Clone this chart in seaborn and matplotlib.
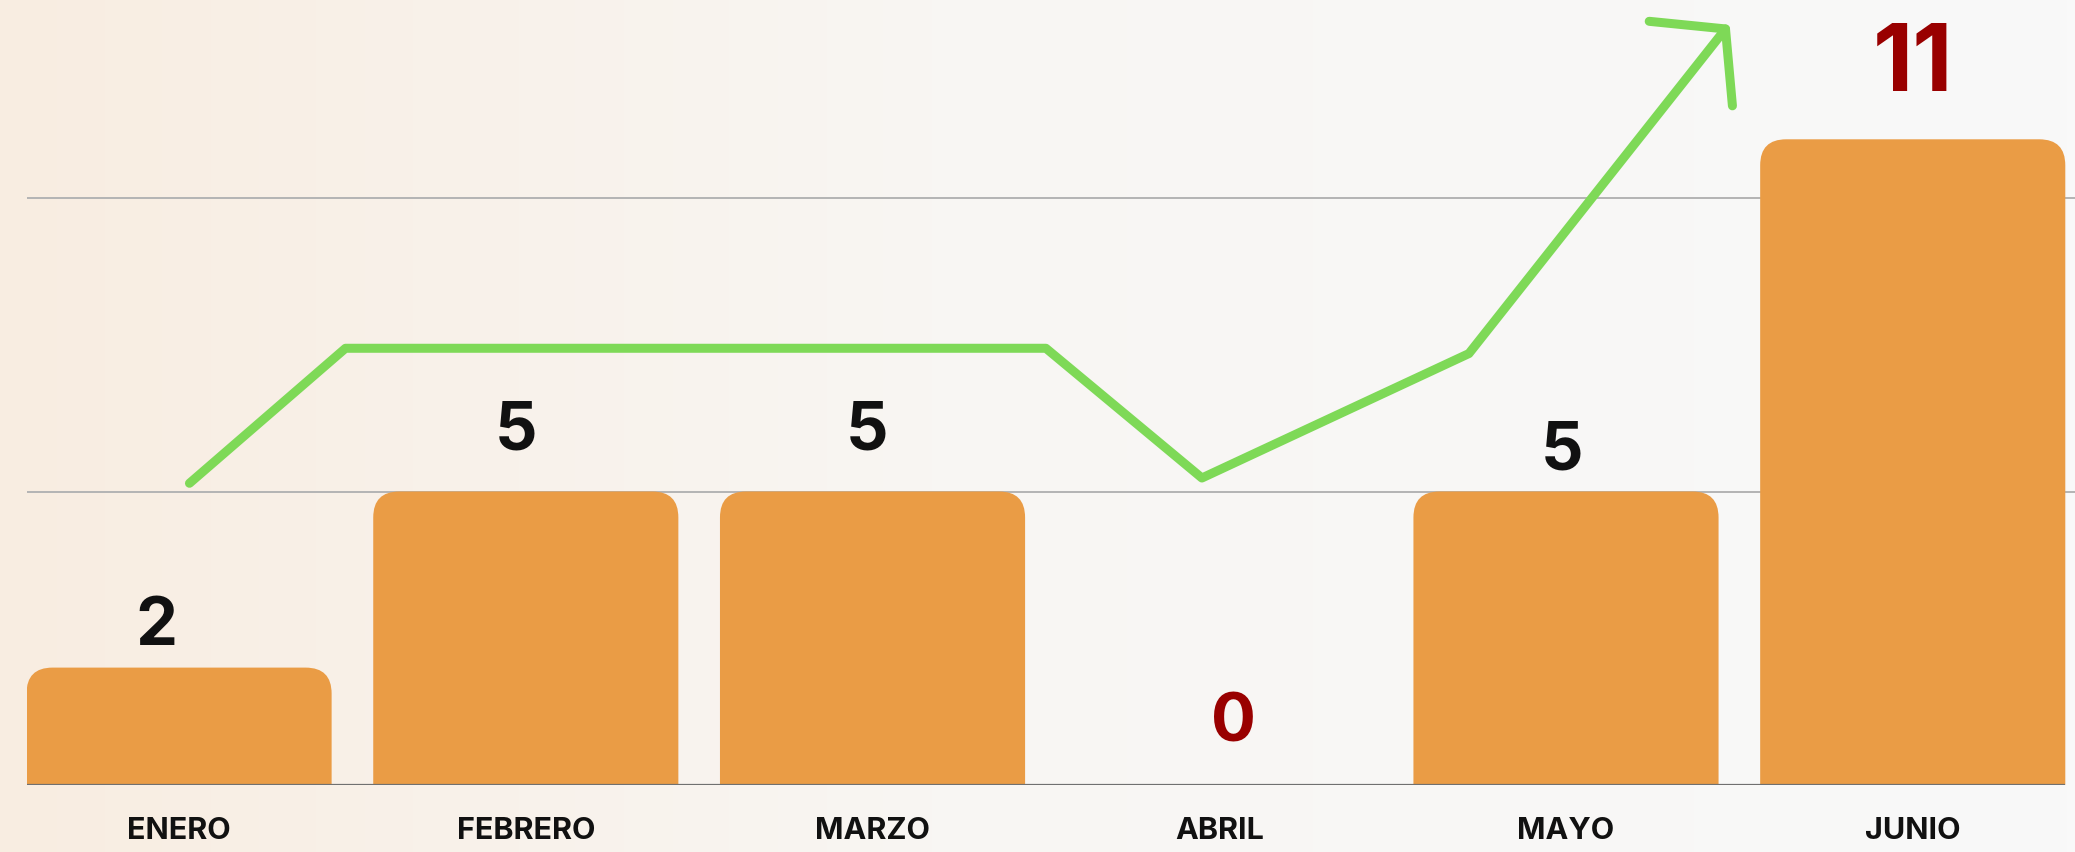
import numpy as np
import matplotlib
matplotlib.use("Agg")
import matplotlib.pyplot as plt
from matplotlib.patches import PathPatch
from matplotlib.path import Path
from matplotlib.colors import LinearSegmentedColormap
import seaborn as sns

# data
months = ["ENERO", "FEBRERO", "MARZO", "ABRIL", "MAYO", "JUNIO"]
values = [2, 5, 5, 0, 5, 11]

# hand-drawn trend arrow (data coordinates)
trend_x = [0.03, 0.48, 2.50, 2.95, 3.72, 4.46]
trend_y = [5.14, 7.44, 7.44, 5.23, 7.35, 12.88]
arrow_x = [4.24, 4.46, 4.48]
arrow_y = [13.01, 12.88, 11.57]

# label nudges (points)
label_dx = [-16, -7, -4, 10, -3, 0]
label_dy = [16.5, 30, 30, 31, 16, 35]

BAR_COLOR = "#EA9C45"
GREEN = "#7ED957"
RED = "#990000"


def rounded_top(x0, w, h, rx, ry):
    """Bar outline with rounded top corners only."""
    x1 = x0 + w
    verts = [(x0, 0), (x0, h - ry), (x0, h), (x0 + rx, h), (x1 - rx, h),
             (x1, h), (x1, h - ry), (x1, 0), (x0, 0)]
    codes = [Path.MOVETO, Path.LINETO, Path.CURVE3, Path.CURVE3, Path.LINETO,
             Path.CURVE3, Path.CURVE3, Path.LINETO, Path.CLOSEPOLY]
    return Path(verts, codes)


sns.set_style("white")
plt.rcParams['font.family'] = ['Inter', 'DejaVu Sans']

fig = plt.figure(figsize=(20.75, 8.52), dpi=100)

# background gradient
bg = fig.add_axes([0, 0, 1, 1], zorder=0)
cmap = LinearSegmentedColormap.from_list("bg", [(0, "#F8EDE1"), (0.45, "#F8F6F3"), (1, "#F9F9F9")])
bg.imshow(np.linspace(0, 1, 512)[None, :], aspect="auto", cmap=cmap, extent=[0, 1, 0, 1])
bg.axis("off")

ax = fig.add_axes([26.5 / 2075, 1 - 785 / 852, 1 - 26.5 / 2075, 785 / 852], zorder=1)
ax.patch.set_alpha(0)

sns.barplot(x=months, y=values, color=BAR_COLOR, saturation=1, width=0.88, ax=ax)

ax.set_xlim(-0.44, 5.468)
ax.set_ylim(0, 785 / 58.7)

# swap plain bars for ones with rounded tops
px_x = 346.7   # pixels per x unit
px_y = 58.7    # pixels per y unit
for p in list(ax.patches):
    x0, w, h = p.get_x(), p.get_width(), p.get_height()
    p.set_visible(False)
    if h <= 0:
        continue
    path = rounded_top(x0, w, h, 26 / px_x, 26 / px_y)
    ax.add_patch(PathPatch(path, fc=BAR_COLOR, ec="none", zorder=2))

# gridlines and baseline
for gy in [5, 10]:
    ax.axhline(gy, color="#B4B4B4", lw=1.4, zorder=1)
ax.hlines(0, -0.44, 5.44, color="#707070", lw=1.6, zorder=3)

# trend arrow
ax.plot(trend_x, trend_y, color=GREEN, lw=6.5, solid_capstyle="round", solid_joinstyle="round", zorder=4)
ax.plot(arrow_x, arrow_y, color=GREEN, lw=6.5, solid_capstyle="round", solid_joinstyle="round", zorder=4)

# value labels
vmax = max(values)
for i, v in enumerate(values):
    highlight = v == 0 or v == vmax
    ax.annotate(str(v), xy=(i, v), xytext=(label_dx[i], label_dy[i]), textcoords="offset points",
                ha="center", va="baseline", fontsize=67 if v == vmax else 48, fontweight="bold",
                color=RED if highlight else "#111111", zorder=5)

ax.set_yticks([])
ax.set_xlabel("")
ax.set_ylabel("")
ax.tick_params(axis="x", length=0, pad=23)
for lbl in ax.get_xticklabels():
    lbl.set_fontsize(22)
    lbl.set_fontweight("bold")
    lbl.set_color("#111111")
sns.despine(ax=ax, left=True, bottom=True)

fig.savefig("out.png", dpi=100)
